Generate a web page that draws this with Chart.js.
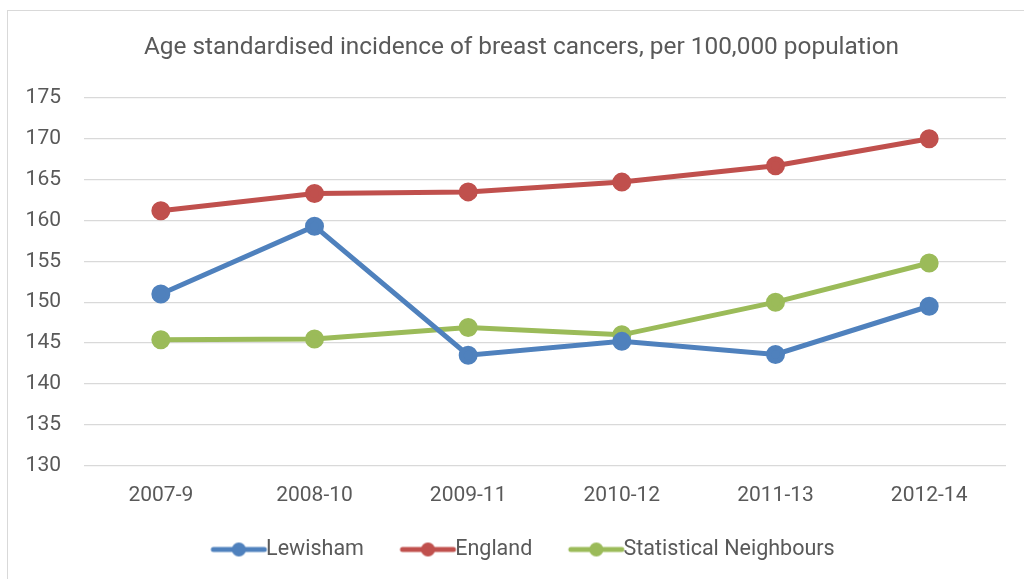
<!DOCTYPE html>
<html lang="en">
<head>
    <meta charset="UTF-8">
    <title>Breast cancer incidence</title>
    <script src="https://cdn.jsdelivr.net/npm/chart.js@4"></script>
    <style>
        html, body { margin: 0; padding: 0; background: #fff; overflow: hidden; }
        #frame { position: absolute; left: 7px; top: 10px; width: 2000px; height: 2000px; border: 1.5px solid #d9d9d9; }
        #wrap { position: absolute; left: 0; top: 0; width: 1024px; height: 579px; }
    </style>
</head>
<body>
    <div id="frame"></div>
    <div id="wrap">
        <canvas id="incidenceChart" width="1024" height="579"></canvas>
    </div>
<script>
  // chart data
  const periods = ['2007-9', '2008-10', '2009-11', '2010-12', '2011-13', '2012-14'];
  const lewisham = [151.0, 159.3, 143.5, 145.2, 143.6, 149.5];
  const england = [161.2, 163.3, 163.5, 164.7, 166.7, 170.0];
  const neighbours = [145.4, 145.5, 146.9, 146.0, 150.0, 154.8];
  const yTicks = [130, 135, 140, 145, 150, 155, 160, 165, 170, 175];

  const textColor = '#595959';
  const font = "Roboto, 'Liberation Sans', sans-serif";

  // legend marker: line with a dot, padded on the left so the text sits close
  function legendMarker(color) {
    const c = document.createElement('canvas');
    c.width = 97;
    c.height = 16;
    const g = c.getContext('2d');
    g.strokeStyle = color;
    g.lineWidth = 5;
    g.lineCap = 'round';
    g.beginPath();
    g.moveTo(c.width - 57, 8);
    g.lineTo(c.width - 6, 8);
    g.stroke();
    g.fillStyle = color;
    g.beginPath();
    g.arc(c.width - 31.5, 8, 7, 0, Math.PI * 2);
    g.fill();
    return c;
  }

  // the visible legend sits a bit left of the box centre
  const nudgeLegend = {
    id: 'nudgeLegend',
    afterLayout: function (chart) {
      chart.legend.left -= 10;
      chart.legend.right -= 10;
    },
  };

  function series(label, values, color) {
    return {
      label: label,
      data: values,
      borderColor: color,
      backgroundColor: color,
      borderWidth: 5,
      pointRadius: 7,
      pointHoverRadius: 7,
      pointBackgroundColor: color,
      pointBorderColor: color,
      tension: 0,
    };
  }

  const ctx = document.getElementById('incidenceChart').getContext('2d');

  new Chart(ctx, {
    type: 'line',
    data: {
      labels: periods,
      datasets: [
        series('Lewisham', lewisham, '#4F81BD'),
        series('England', england, '#C0504D'),
        series('Statistical Neighbours', neighbours, '#9BBB59'),
      ],
    },
    plugins: [nudgeLegend],
    options: {
      responsive: false,
      animation: false,
      layout: { padding: { left: 37, right: 18, top: 0, bottom: 8.75 } },
      plugins: {
        tooltip: { enabled: false },
        title: {
          display: true,
          text: 'Age standardised incidence of breast cancers, per 100,000 population',
          color: textColor,
          font: { family: font, size: 24.4, weight: 'normal' },
          padding: { top: 33, bottom: 35.7 },
        },
        legend: {
          position: 'bottom',
          labels: {
            color: textColor,
            font: { family: font, size: 21.5 },
            usePointStyle: true,
            pointStyleWidth: 67,
            padding: 13.5,
            generateLabels: function (chart) {
              const items = Chart.defaults.plugins.legend.labels.generateLabels(chart);
              items.forEach(function (item, i) {
                item.pointStyle = legendMarker(chart.data.datasets[i].borderColor);
              });
              return items;
            },
          },
        },
      },
      scales: {
        x: {
          offset: true,
          grid: { display: false, drawTicks: false },
          border: { display: false },
          ticks: { color: textColor, font: { family: font, size: 21 }, padding: 18 },
          afterFit: function (scale) { scale.height = 59.75; },
        },
        y: {
          min: 130,
          max: 175,
          afterBuildTicks: function (scale) {
            scale.ticks = yTicks.map(function (v) { return { value: v }; });
          },
          grid: { color: '#d9d9d9', lineWidth: 1.3, drawTicks: false },
          border: { display: false },
          ticks: { color: textColor, font: { family: font, size: 21 }, padding: 23 },
          afterFit: function (scale) {
            scale.width = 47;
            // labels are wider than the narrow axis box; do not clip them
            scale._computeLabelArea = function () { return undefined; };
          },
        },
      },
    },
  });
</script>
</body>
</html>
